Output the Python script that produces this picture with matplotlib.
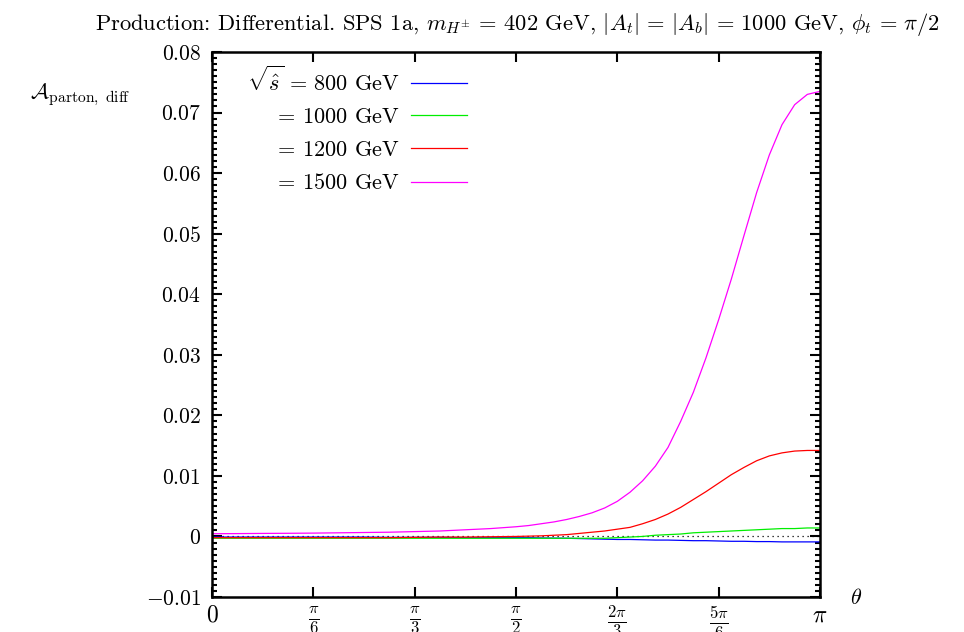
import numpy as np
import matplotlib
matplotlib.use("Agg")
import matplotlib.pyplot as plt
from matplotlib.ticker import MultipleLocator

plt.rcParams['font.family'] = 'cmr10'
plt.rcParams['mathtext.fontset'] = 'cm'
plt.rcParams['axes.unicode_minus'] = False

# theta in units of pi: steps of 1/24 up to 1/2, then 1/48 up to 1
theta_frac = np.concatenate([np.arange(12) / 24.0, np.arange(24, 49) / 48.0])

a_800 = [-0.0001, -0.0001, -0.0001, -0.0001, -0.0001, -0.0001, -0.0001, -0.00015, -0.00015,
         -0.00015, -0.0002, -0.0002,
         -0.0002, -0.0002, -0.00025, -0.00028, -0.0003, -0.00035, -0.0004, -0.00045, -0.0005,
         -0.0005, -0.00055, -0.0006, -0.0006, -0.00065, -0.0007, -0.0007, -0.00075,
         -0.0008, -0.0008, -0.00085, -0.00085, -0.0009, -0.0009, -0.0009, -0.0009]
a_1000 = [-0.0003, -0.0003, -0.0003, -0.0003, -0.0003, -0.0003, -0.0003, -0.0003, -0.0003,
          -0.0003, -0.0003, -0.0003,
          -0.0003, -0.0003, -0.0003, -0.0003, -0.0003, -0.0003, -0.0003, -0.0003, -0.0002,
          -0.0001, 0.0, 0.0002, 0.0003, 0.0004, 0.0006, 0.0007, 0.0008,
          0.0009, 0.001, 0.0011, 0.0012, 0.0013, 0.0013, 0.0014, 0.0014]
a_1200 = [-0.0002, -0.0002, -0.0002, -0.0002, -0.0002, -0.0002, -0.0002, -0.0002, -0.00015,
          -0.0001, -0.0001, -0.00005,
          0.0, 0.00005, 0.0001, 0.0002, 0.0003, 0.0005, 0.0007, 0.0009, 0.0012,
          0.0015, 0.0021, 0.0028, 0.0037, 0.0048, 0.0061, 0.0074, 0.0088,
          0.0102, 0.0114, 0.0125, 0.0133, 0.0138, 0.0141, 0.0142, 0.0142]
a_1500 = [0.00045, 0.00047, 0.0005, 0.00052, 0.00055, 0.0006, 0.00065, 0.0007, 0.0008,
          0.0009, 0.0011, 0.0013,
          0.0016, 0.0018, 0.0021, 0.0024, 0.0028, 0.0033, 0.0039, 0.0047, 0.0058,
          0.0073, 0.0092, 0.0116, 0.0147, 0.019, 0.0238, 0.0295, 0.0358,
          0.0425, 0.0497, 0.0568, 0.063, 0.068, 0.0713, 0.073, 0.0735]

labels = [r'$\sqrt{\hat{s}}\,=\,800$ GeV', r'$=\,1000$ GeV', r'$=\,1200$ GeV', r'$=\,1500$ GeV']
colors = ['#0000ff', '#00ee00', '#ff0000', '#ff00ff']

xtick_vals = np.arange(7) * np.pi / 6
xtick_labels = ['$0$', r'$\frac{\pi}{6}$', r'$\frac{\pi}{3}$', r'$\frac{\pi}{2}$',
                r'$\frac{2\pi}{3}$', r'$\frac{5\pi}{6}$', r'$\pi$']
ytick_vals = np.arange(-0.01, 0.0801, 0.01)
ytick_labels = ['$-0.01$', '$0$', '$0.01$', '$0.02$', '$0.03$', '$0.04$', '$0.05$',
                '$0.06$', '$0.07$', '$0.08$']

fig = plt.figure(figsize=(9.64, 6.32), dpi=100)
ax = fig.add_axes([212 / 964, 1 - 597 / 632, 608 / 964, 545 / 632])

theta = theta_frac * np.pi
ax.axhline(0, color='black', linestyle=(0, (1, 3)), linewidth=0.9)
for vals, lab, col in zip([a_800, a_1000, a_1200, a_1500], labels, colors):
    ax.plot(theta, vals, color=col, linewidth=0.9, label=lab)

ax.set_xlim(0, np.pi)
ax.set_ylim(-0.01, 0.08)
ax.set_xticks(xtick_vals)
ax.set_xticklabels(xtick_labels, fontsize=17)
ax.set_yticks(ytick_vals)
ax.set_yticklabels(ytick_labels, fontsize=15.5)
ax.yaxis.set_minor_locator(MultipleLocator(0.001))
ax.tick_params(which='both', direction='in', top=True, right=True, width=1.5)
ax.tick_params(which='major', length=7)
ax.tick_params(which='minor', length=3.5)
ax.tick_params(axis='x', pad=5)
ax.tick_params(axis='y', pad=8)
for sp in ax.spines.values():
    sp.set_linewidth(1.8)

ax.legend(loc='upper left', bbox_to_anchor=(0.025, 1.014), markerfirst=False, frameon=False,
          fontsize=16, handlelength=2.5, labelspacing=0.6, handletextpad=0.5)

fig.text(0.537, 1 - 25 / 632, r'Production: Differential. SPS 1a, $m_{H^{\pm}}\,=\,402$ GeV, '
         r'$|A_t|\,=\,|A_b|\,=\,1000$ GeV, $\phi_t\,=\,\pi/2$', ha='center', va='center', fontsize=16.2)
fig.text(30 / 964, 1 - 95 / 632, r'$\mathcal{A}_{\rm parton,\ diff}$', ha='left', va='center', fontsize=16)
fig.text(856 / 964, 1 - 598 / 632, r'$\theta$', ha='center', va='center', fontsize=16)

fig.savefig('out.png', dpi=100)
